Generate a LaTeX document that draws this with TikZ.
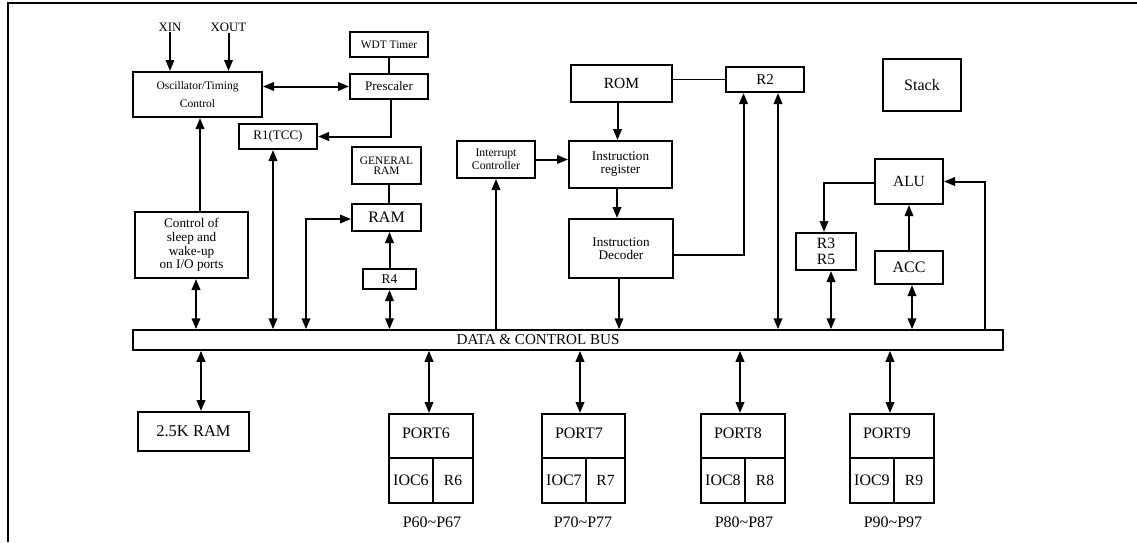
\documentclass[tikz,border=0pt]{standalone}
\usepackage{fontspec}
\setmainfont{Liberation Serif}
\usetikzlibrary{arrows.meta,calc}
\begin{document}
\begin{tikzpicture}[x=1pt,y=-1pt,
  box/.style={draw, line width=2pt, inner sep=0pt, align=center},
  cell/.style={draw, line width=1.9pt, inner sep=0pt},
  lbl/.style={inner sep=1pt},
  tip/.tip={Triangle[length=11pt,width=8.5pt]},
  arr/.style={line width=2pt, -tip},
  darr/.style={line width=2pt, tip-tip},
  ln/.style={line width=2pt},
  thinln/.style={line width=1.3pt}]
\useasboundingbox (0,0) rectangle (1137,542);
% frame
\draw[line width=2.8pt] (8,542) -- (8,3) -- (1137,3);

% boxes
\node[box, minimum width=129pt, minimum height=45pt, font=\fontsize{11.5}{18}\selectfont] (osc) at (197.5,94.5) {Oscillator/Timing\\Control};
\node[box, minimum width=78pt, minimum height=25pt, font=\fontsize{11.4}{13}\selectfont] (wdt) at (389,44.5) {WDT Timer};
\node[box, minimum width=78pt, minimum height=25pt, font=\fontsize{13}{15}\selectfont] (pre) at (389,86.5) {Prescaler};
\node[box, minimum width=78pt, minimum height=25pt, font=\fontsize{13}{15}\selectfont] (r1) at (278,136.5) {R1(TCC)};
\node[box, minimum width=69pt, minimum height=37pt, font=\fontsize{11.4}{10.5}\selectfont] (gram) at (386.5,165.5) {GENERAL\\RAM};
\node[box, minimum width=69pt, minimum height=27pt, font=\fontsize{16}{18}\selectfont] (ram) at (386.5,217.5) {RAM};
\node[box, minimum width=53pt, minimum height=20pt, font=\fontsize{13.4}{15}\selectfont] (r4) at (389.5,279) {R4};
\node[box, minimum width=113pt, minimum height=66pt, font=\fontsize{13.2}{13.7}\selectfont] (ctrl) at (191.5,245) {Control of\\sleep and\\wake-up\\on I/O ports};
\node[box, minimum width=78pt, minimum height=37pt, font=\fontsize{11.7}{13}\selectfont] (ic) at (496,159.5) {Interrupt\\Controller};
\node[box, minimum width=101pt, minimum height=37pt, font=\fontsize{15.5}{17}\selectfont] (rom) at (621.5,83.5) {ROM};
\node[box, minimum width=103pt, minimum height=47pt, font=\fontsize{13.2}{13}\selectfont] (ir) at (620.5,164.5) {Instruction\\register};
\node[box, minimum width=104pt, minimum height=59pt, font=\fontsize{13.2}{13}\selectfont] (id) at (621,248.5) {Instruction\\Decoder};
\node[box, minimum width=78pt, minimum height=25pt, font=\fontsize{15}{17}\selectfont] (r2) at (765,79.5) {R2};
\node[box, minimum width=78pt, minimum height=52pt, font=\fontsize{16}{18}\selectfont] (stack) at (922,85) {Stack};
\node[box, minimum width=68pt, minimum height=45pt, font=\fontsize{15.5}{17}\selectfont] (alu) at (909,181.5) {ALU};
\node[box, minimum width=60pt, minimum height=37pt, font=\fontsize{15.7}{16}\selectfont] (r35) at (826,251.5) {R3\\R5};
\node[box, minimum width=68pt, minimum height=33pt, font=\fontsize{16}{18}\selectfont] (acc) at (909,267.5) {ACC};
\node[draw, line width=1.5pt, inner sep=0pt, minimum width=870pt, minimum height=20pt] (bus) at (568,340) {};
\node[lbl, font=\fontsize{15.1}{17}\selectfont] (buslbl) at (538,340) {DATA \& CONTROL BUS};
\node[box, minimum width=111pt, minimum height=39pt, font=\fontsize{16.5}{18}\selectfont] (ram25) at (193.5,431.5) {2.5K RAM};

% inputs
\node[lbl, font=\fontsize{12.8}{15}\selectfont] (xin) at (170,27) {XIN};
\node[lbl, font=\fontsize{12.8}{15}\selectfont] (xout) at (228.5,27) {XOUT};
\draw[arr] (xin.south) -- (xin.south |- osc.north);
\draw[arr] (xout.south) -- (xout.south |- osc.north);

% top-left connectors
\draw[darr] (osc.east |- pre.west) -- (pre.west);
\draw[ln] (wdt.south) -- (wdt.south |- pre.north);
\draw[arr] ([xshift=2pt]pre.south) |- (r1.east);
\draw[arr] ([xshift=2.5pt]osc.south |- ctrl.north) -- ([xshift=2.5pt]osc.south);
\coordinate (ctrlb) at ([xshift=4.5pt]ctrl.south);
\draw[darr] (ctrlb) -- (ctrlb |- bus.north);
\coordinate (r1b) at ([xshift=-5pt]r1.south);
\draw[darr] (r1b) -- (r1b |- bus.north);
\coordinate (ramtap) at (306,330);
\draw[darr] ([yshift=-1.5pt]ram.west) -| (ramtap |- bus.north);
\draw[thinln] ([xshift=2.5pt]gram.south) -- ([xshift=2.5pt]ram.north);
\draw[arr] (r4.north) -- (r4.north |- ram.south);
\draw[darr] (r4.south) -- (r4.south |- bus.north);

% middle
\draw[arr] (ic.south |- bus.north) -- (ic.south);
\draw[arr] (ic.east) -- (ic.east -| ir.west);
\coordinate (romb) at ([xshift=-4pt]rom.south);
\draw[arr] (romb) -- (romb |- ir.north);
\draw[arr] ([xshift=-3.5pt]ir.south) -- ([xshift=-3.5pt]ir.south |- id.north);
\draw[arr] ([xshift=-2pt]id.south) -- ([xshift=-2pt]id.south |- bus.north);
\coordinate (idr) at ([yshift=-6.5pt]id.east);
\coordinate (r2a) at ([xshift=-21.5pt]r2.south);
\draw[arr] (idr) -| (r2a);
\coordinate (r2b) at ([xshift=13pt]r2.south);
\draw[darr] (r2b) -- (r2b |- bus.north);
\draw[thinln] (rom.east |- r2.west) -- (r2.west);

% right
\draw[arr] ([yshift=-1.5pt]alu.west) -| ([xshift=-2pt]r35.north);
\coordinate (r35b) at ([xshift=5pt]r35.south);
\draw[darr] (r35b) -- (r35b |- bus.north);
\draw[arr] (acc.north) -- (alu.south);
\coordinate (accb) at ([xshift=3pt]acc.south);
\draw[darr] (accb) -- (accb |- bus.north);
\coordinate (alutap) at (985,330);
\draw[arr] (alutap |- bus.north) |- (alu.east);

% bottom
\coordinate (ram25t) at ([xshift=7.5pt]ram25.north);
\draw[darr] (bus.south -| ram25t) -- (ram25t);

\foreach \n/\l/\r/\d/\lab/\ax in {6/388/472/432/432/429, 7/541/624/585/583/580, 8/700/784/744/744/740, 9/849/933/893/893/890} {
  \node[cell, anchor=north west, minimum width={\r-\l}, minimum height=44pt] (pt\n) at (\l,413) {};
  \node[lbl, font=\fontsize{16}{18}\selectfont] (ptt\n) at (\l+38,433) {PORT\n};
  \node[cell, anchor=north west, minimum width={\d-\l}, minimum height=45pt, font=\fontsize{16}{18}\selectfont] (ioc\n) at (\l,457) {IOC\n};
  \node[cell, anchor=north west, minimum width={\r-\d}, minimum height=45pt, font=\fontsize{15.5}{18}\selectfont] (rr\n) at (\d,457) {R\n};
  \node[lbl, font=\fontsize{16}{18}\selectfont] (pl\n) at (\lab,522) {P\n0\textasciitilde P\n7};
  \coordinate (pa\n) at (\ax,413);
  \draw[darr] (bus.south -| pa\n) -- (pa\n);
}
\end{tikzpicture}
\end{document}
